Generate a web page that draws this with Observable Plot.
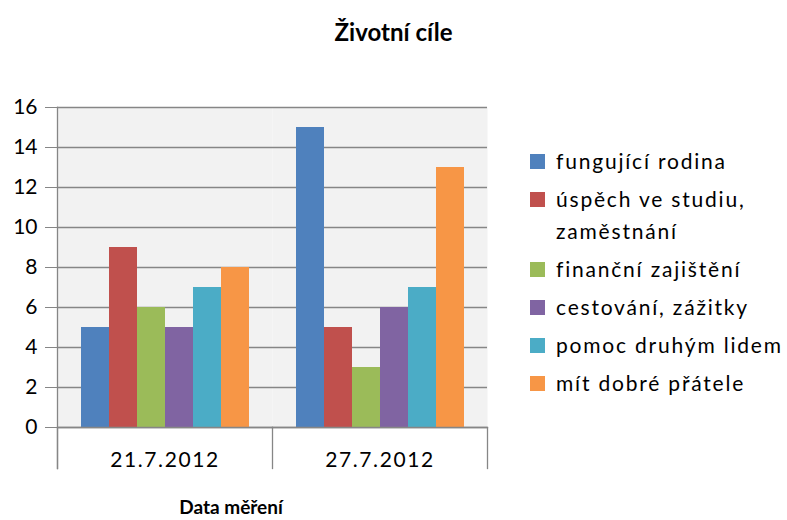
<!DOCTYPE html>
<html><head><meta charset="utf-8">
<script src="https://cdn.jsdelivr.net/npm/d3@7"></script>
<script src="https://cdn.jsdelivr.net/npm/@observablehq/plot@0.6"></script>
<style>
body{margin:0;background:#fff;font-family:Lato,"Open Sans",sans-serif;color:#000;}
#wrap{position:relative;width:787px;height:520px;overflow:hidden;}
#chart{position:absolute;left:0;top:0;}
#title{position:absolute;left:0;width:787px;top:16px;text-align:center;font-weight:bold;font-size:24px;line-height:32px;}
#xtitle{position:absolute;left:131px;width:200px;top:494px;text-align:center;font-weight:bold;font-size:19px;line-height:26px;}
#legend{position:absolute;left:530px;top:145px;}
.item{display:flex;align-items:flex-start;font-size:21px;line-height:32px;margin-bottom:6px;width:257px;letter-spacing:1.8px;}
.sw{width:15px;height:15px;margin-top:9px;margin-right:11px;flex:none;}
#chart g[aria-label="fx-axis tick label"] text{letter-spacing:1.6px;}
</style></head><body>
<div id="wrap"><div id="chart"></div><div id="title"></div><div id="xtitle"></div><div id="legend"></div></div>
<script>
const titleText = "Životní cíle";
const xTitleText = "Data měření";
const dates = ["21.7.2012", "27.7.2012"];
const series = ["fungující rodina", "úspěch ve studiu, zaměstnání", "finanční zajištění", "cestování, zážitky", "pomoc druhým lidem", "mít dobré přátele"];
const colors = ["#4f81bd", "#c0504d", "#9bbb59", "#8064a2", "#4bacc6", "#f79646"];
const values21 = [5, 9, 6, 5, 7, 8];
const values27 = [15, 5, 3, 6, 7, 13];
const yTicks = [0, 2, 4, 6, 8, 10, 12, 14, 16];

const data = [];
[values21, values27].forEach((vals, i) => vals.forEach((v, j) => data.push({date: dates[i], series: series[j], value: v})));

const W = 787, H = 520, ML = 57, MR = 300, MT = 107, MB = 93;
const plotH = H - MT - MB;
const below = 41;
const gray = "#868686";

const plot = Plot.plot({
  width: W, height: H, marginLeft: ML, marginRight: MR, marginTop: MT, marginBottom: MB,
  style: {fontFamily: "Lato, 'Open Sans', sans-serif", fontSize: "21px", color: "#000", background: "transparent", overflow: "visible"},
  fx: {domain: dates, padding: 0, label: null},
  x: {domain: series, paddingInner: 0, paddingOuter: 0.75, axis: null},
  y: {domain: [yTicks[0], yTicks[yTicks.length - 1]], label: null},
  color: {domain: series, range: colors},
  marks: [
    Plot.frame({fill: "#f2f2f2", stroke: "none"}),
    Plot.gridY(yTicks, {stroke: gray, strokeOpacity: 1, strokeWidth: 1.3}),
    Plot.barY(data, {fx: "date", x: "series", y: "value", fill: "series"}),
    Plot.frame({anchor: "left", facetAnchor: "left", stroke: gray, strokeWidth: 1.3, insetBottom: -below}),
    Plot.frame({anchor: "left", stroke: gray, strokeWidth: 1.3, insetTop: plotH, insetBottom: -below}),
    Plot.frame({anchor: "right", facetAnchor: "right", stroke: gray, strokeWidth: 1.3, insetTop: plotH, insetBottom: -below}),
    Plot.frame({anchor: "bottom", stroke: gray, strokeWidth: 1.3}),
    Plot.axisY(yTicks, {tickSize: 12, tickPadding: 8, stroke: gray, label: null}),
    Plot.axisFx({anchor: "bottom", tickSize: 0, tickPadding: 25, label: null})
  ]
});
document.getElementById("chart").appendChild(plot);
document.getElementById("title").textContent = titleText;
document.getElementById("xtitle").textContent = xTitleText;
const legend = document.getElementById("legend");
series.forEach((s, i) => {
  const item = document.createElement("div");
  item.className = "item";
  const sw = document.createElement("div");
  sw.className = "sw";
  sw.style.background = colors[i];
  const lab = document.createElement("div");
  lab.textContent = s;
  item.appendChild(sw); item.appendChild(lab);
  legend.appendChild(item);
});
</script></body></html>
